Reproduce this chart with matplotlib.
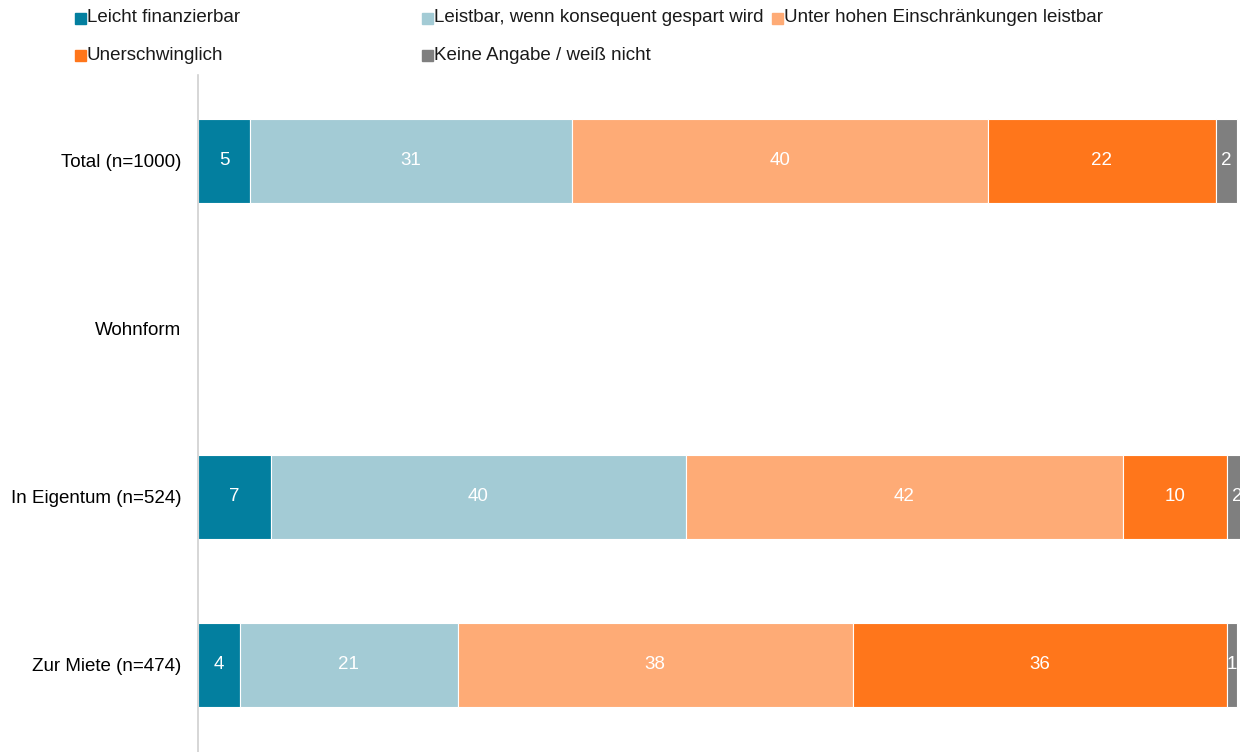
import matplotlib.pyplot as plt
from matplotlib.patches import Rectangle

plt.rcParams['font.family'] = ['Liberation Sans', 'DejaVu Sans']

categories = ['Total (n=1000)', 'Wohnform', 'In Eigentum (n=524)', 'Zur Miete (n=474)']
series_names = ['Leicht finanzierbar', 'Leistbar, wenn konsequent gespart wird',
                'Unter hohen Einschränkungen leistbar', 'Unerschwinglich',
                'Keine Angabe / weiß nicht']
colors = ['#037F9F', '#A3CBD5', '#FEAB76', '#FF761B', '#7F7F7F']

# values per series, one entry per category (None = no bar for Wohnform header)
leicht = [5, None, 7, 4]
leistbar = [31, None, 40, 21]
einschr = [40, None, 42, 38]
unerschw = [22, None, 10, 36]
keine = [2, None, 2, 1]
series = [leicht, leistbar, einschr, unerschw, keine]

FS = 13.5

fig = plt.figure(figsize=(12.49, 7.52), dpi=100)
ax = fig.add_axes([198 / 1249, 0, (1240 - 198) / 1249, 1 - 75 / 752])

for i, cat in enumerate(categories):
    left = 0
    for vals, col in zip(series, colors):
        v = vals[i]
        if v is None:
            continue
        ax.barh(i, v, left=left, height=0.5, color=col, edgecolor='white', linewidth=0.8)
        t = ax.text(left + v / 2, i, str(v), ha='center', va='center',
                    color='white', fontsize=FS)
        t.set_clip_on(True)
        left += v

ax.set_xlim(0, 100.29)
ax.set_ylim(3.52, -0.51)
ax.set_yticks(range(len(categories)))
ax.set_yticklabels(categories, fontsize=FS)
ax.tick_params(axis='y', length=0, pad=12)
ax.set_xticks([])
for s in ['top', 'right', 'bottom']:
    ax.spines[s].set_visible(False)
ax.spines['left'].set_color('#D0D0D0')
ax.spines['left'].set_linewidth(1.2)

# legend laid out like the original (flowing rows)
legend_pos = [(75, 18), (422, 18), (772, 18), (75, 55), (422, 55)]
for (px, py), name, col in zip(legend_pos, series_names, colors):
    fig.patches.append(Rectangle((px / 1249, 1 - (py + 6) / 752), 11 / 1249, 11 / 752,
                                 transform=fig.transFigure, color=col, figure=fig))
    fig.text((px + 12) / 1249, 1 - py / 752, name, ha='left', va='center',
             fontsize=FS, color='#1a1a1a')

fig.savefig('out.png', dpi=100)
